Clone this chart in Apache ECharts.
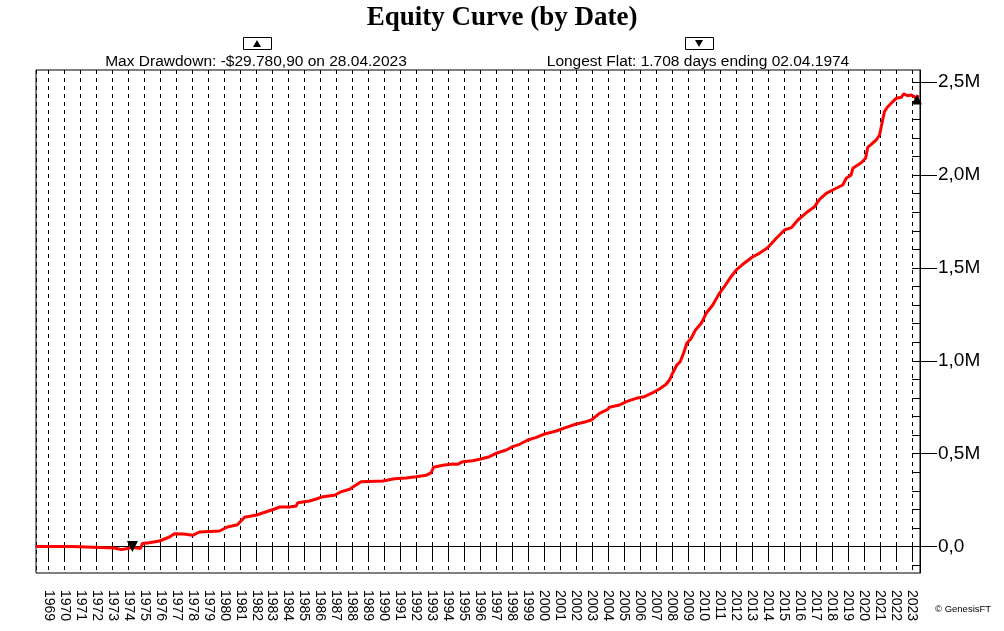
<!DOCTYPE html>
<html><head><meta charset="utf-8">
<script src="https://cdn.jsdelivr.net/npm/echarts@6/dist/echarts.min.js"></script>
<style>html,body{margin:0;padding:0;background:#fff}#c{width:1004px;height:631px}</style>
</head><body><div id="c"></div>
<script>
const titleText = 'Equity Curve (by Date)';
const ddText = 'Max Drawdown: -$29.780,90 on 28.04.2023';
const flatText = 'Longest Flat: 1.708 days ending 02.04.1974';
const copyrightText = '\u00A9 GenesisFT';

const dates = ['1968-03-20','1970-07-01','1970-08-15','1973-02-01','1973-05-01','1973-07-25','1973-12-10','1974-04-02','1974-10-01','1974-11-15',
'1975-04-15','1975-12-10','1976-07-25','1976-11-15','1977-06-20','1978-01-05','1978-06-10','1979-09-10','1980-03-10','1980-10-25',
'1981-04-05','1982-01-05','1983-02-20','1983-06-15','1984-01-25','1984-07-01','1984-08-01','1985-05-01','1985-10-01','1986-03-01',
'1986-11-20','1987-04-20','1987-11-01','1988-02-20','1988-07-20','1989-12-01','1990-08-20','1991-05-15','1992-01-01','1992-08-15',
'1992-12-10','1993-01-30','1993-08-30','1994-04-15','1994-08-01','1994-12-01','1995-07-15','1995-12-15','1996-07-30','1997-02-05',
'1997-08-20','1998-01-15','1998-06-20','1998-12-25','1999-07-05','2000-01-10','2000-10-05','2001-05-20','2002-01-05','2002-08-15',
'2002-12-15','2003-06-20','2003-12-25','2004-02-01','2004-09-20','2005-02-20','2005-10-05','2006-04-10','2006-10-20','2007-03-20',
'2007-08-20','2007-11-05','2008-01-20','2008-04-20','2008-07-05','2008-09-20','2008-12-05','2009-03-15','2009-06-20','2009-10-30',
'2010-02-20','2010-07-20','2010-12-20','2011-04-10','2011-09-10','2012-01-10','2012-06-05','2013-01-20','2013-06-20','2013-12-25',
'2014-07-10','2015-01-15','2015-06-20','2015-11-15','2016-06-25','2016-11-30','2017-03-25','2017-08-25','2018-01-20','2018-09-05',
'2018-11-25','2019-03-15','2019-04-25','2019-11-01','2020-02-10','2020-03-30','2020-10-10','2020-12-25','2021-02-25','2021-04-15',
'2021-07-01','2021-10-20','2022-01-10','2022-05-05','2022-06-25','2022-10-01','2022-12-15','2023-03-01','2023-04-28','2023-05-25'];

const equity = [0,0,-8000,-8000,-12000,-16700,-10800,-4000,-10800,15600,
20500,29600,51200,68900,67300,60300,78100,83500,105000,117400,
157200,169600,201900,212700,212700,218100,235900,245000,255800,268200,
275700,295100,308000,325800,349000,352700,365100,368900,375900,383400,
397400,426500,437300,444300,442700,456700,462000,469600,483600,505100,
519700,537400,550400,573500,588000,605800,622000,641900,659700,672100,
681200,717300,738800,749600,762000,779800,798100,806700,828200,848100,
873500,896600,935900,977400,995200,1040400,1094200,1121200,1165900,1201900,
1255800,1300400,1363500,1399000,1452900,1489000,1519700,1560600,1578900,1609100,
1659700,1704400,1716800,1758200,1802900,1829800,1869700,1902000,1919800,1946700,
1982800,2000500,2036600,2066800,2090500,2149700,2189000,2216000,2287600,2341400,
2368300,2395300,2413600,2419000,2436700,2427600,2431300,2422200,2407000,2431300];

const flatEndPoint = ['1974-04-02', 0];
const maxDrawdownPoint = ['2023-04-28', 2407000];

const xMin = '1968-03-20';
const xMax = '2023-07-07';
const yMin = -142700;
const yMax = 2566000;
const yLabelTicks = [0, 500000, 1000000, 1500000, 2000000, 2500000];
const yMinorTicks = [-100000,0,100000,200000,300000,400000,500000,600000,700000,800000,900000,1000000,
1100000,1200000,1300000,1400000,1500000,1600000,1700000,1800000,1900000,2000000,2100000,2200000,2300000,2400000,2500000];

const FONT = '"Liberation Sans", Arial, sans-serif';
const gridBox = {left: 36, right: 84, top: 70, bottom: 58};

function fmtM(v) {
  if (v === 0) return '0,0';
  return (v / 1e6).toFixed(1).replace('.', ',') + 'M';
}

const chart = echarts.init(document.getElementById('c'), null, {renderer: 'canvas'});
chart.setOption({
  animation: false,
  backgroundColor: '#ffffff',
  title: {
    text: titleText, left: 'center', top: 0,
    textStyle: {fontFamily: '"Liberation Serif", "Times New Roman", serif', fontSize: 27, fontWeight: 'bold', color: '#000'}
  },
  grid: [
    Object.assign({show: true, borderColor: '#000', borderWidth: 1, backgroundColor: 'transparent'}, gridBox),
    Object.assign({show: false}, gridBox)
  ],
  xAxis: [{
    type: 'time', gridIndex: 0, min: xMin, max: xMax, splitNumber: 50,
    axisLine: {show: true, lineStyle: {color: '#000', width: 1}},
    axisTick: {show: true, length: 12, lineStyle: {color: '#000'}},
    axisLabel: {
      show: true, rotate: -90, margin: 17, fontSize: 14, fontFamily: FONT, color: '#000',
      interval: 0, hideOverlap: false, showMinLabel: false, showMaxLabel: false,
      formatter: function (v) { return String(new Date(v).getFullYear()); }
    },
    splitLine: {show: true, lineStyle: {color: '#000', width: 1, type: [4, 4]}}
  }, {
    type: 'time', gridIndex: 1, min: xMin, max: xMax, show: false
  }],
  yAxis: [{
    type: 'value', gridIndex: 0, position: 'right', min: yMin, max: yMax,
    axisLine: {show: true, lineStyle: {color: '#000', width: 1}},
    axisTick: {show: true, inside: true, length: 8, customValues: yMinorTicks, lineStyle: {color: '#000'}},
    axisLabel: {show: false},
    splitLine: {show: false}
  }, {
    type: 'value', gridIndex: 1, position: 'right', min: yMin, max: yMax,
    axisLine: {show: false},
    axisTick: {show: true, inside: false, length: 17, customValues: yLabelTicks, lineStyle: {color: '#000'}},
    axisLabel: {show: true, customValues: yLabelTicks, margin: 18, fontSize: 19, fontFamily: FONT, color: '#000', formatter: fmtM},
    splitLine: {show: false}
  }],
  series: [{
    type: 'line', xAxisIndex: 0, yAxisIndex: 0,
    data: dates.map((d, i) => [d, equity[i]]),
    showSymbol: false, symbol: 'none',
    lineStyle: {color: '#ff0000', width: 3},
    z: 5,
    markLine: {
      silent: true, symbol: 'none', label: {show: false},
      lineStyle: {color: '#000', width: 1, type: [4, 3]},
      data: [{yAxis: 0}]
    }
  }, {
    type: 'scatter', xAxisIndex: 0, yAxisIndex: 0,
    data: [flatEndPoint], symbol: 'triangle', symbolRotate: 180, symbolSize: [11, 11],
    itemStyle: {color: '#000', opacity: 1}, z: 20
  }, {
    type: 'scatter', xAxisIndex: 0, yAxisIndex: 0,
    data: [maxDrawdownPoint], symbol: 'triangle', symbolSize: [10, 10],
    itemStyle: {color: '#000', opacity: 1}, z: 20
  }],
  graphic: [
    {type: 'rect', shape: {x: 243.5, y: 37.5, width: 28, height: 12}, style: {fill: '#fff', stroke: '#000', lineWidth: 1}},
    {type: 'polygon', shape: {points: [[253, 47], [261, 47], [257, 40]]}, style: {fill: '#000'}},
    {type: 'text', style: {text: ddText, x: 256, y: 61.5, textAlign: 'center', textVerticalAlign: 'middle', font: '15.5px ' + FONT, fill: '#000'}},
    {type: 'rect', shape: {x: 685.5, y: 37.5, width: 28, height: 12}, style: {fill: '#fff', stroke: '#000', lineWidth: 1}},
    {type: 'polygon', shape: {points: [[695, 40], [703, 40], [699, 47]]}, style: {fill: '#000'}},
    {type: 'text', style: {text: flatText, x: 698, y: 61.5, textAlign: 'center', textVerticalAlign: 'middle', font: '15.5px ' + FONT, fill: '#000'}},
    {type: 'text', style: {text: copyrightText, x: 935, y: 609, textAlign: 'left', textVerticalAlign: 'middle', font: '9.5px ' + FONT, fill: '#000'}}
  ]
});
</script>
</body></html>
